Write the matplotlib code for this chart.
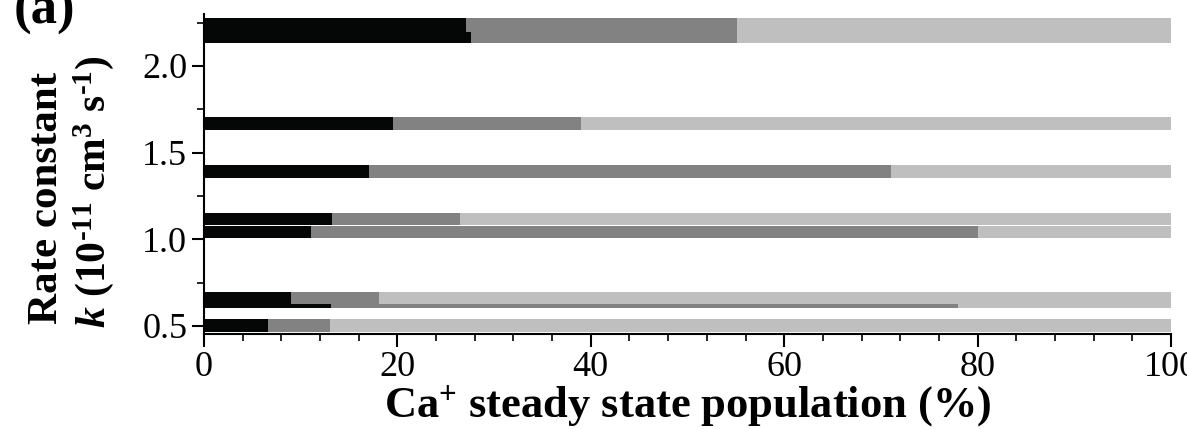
import numpy as np
import matplotlib
matplotlib.use("Agg")
import matplotlib.pyplot as plt
from matplotlib.ticker import MultipleLocator

plt.rcParams['font.family'] = ['Liberation Serif', 'DejaVu Serif']
plt.rcParams['mathtext.fontset'] = 'custom'
plt.rcParams['mathtext.rm'] = 'Liberation Serif:bold'
plt.rcParams['mathtext.bf'] = 'Liberation Serif:bold'
plt.rcParams['mathtext.it'] = 'Liberation Serif:italic:bold'

# rate constants (10^-11 cm^3 s^-1) at which each bar sits
rate_k = [2.165, 2.236, 1.668, 1.392, 1.117, 1.041, 0.650, 0.661, 0.503]
# population shares (%) : black / dark grey / light grey segments
pop_black = [27.6, 27.1, 19.5, 17.1, 13.2, 11.1, 13.1, 9.0, 6.6]
pop_grey = [27.5, 28.0, 19.45, 53.9, 13.3, 68.9, 64.9, 9.1, 6.4]
pop_light = [100 - b - g for b, g in zip(pop_black, pop_grey)]

bar_h = [0.062, 0.079, 0.073, 0.075, 0.066, 0.068, 0.092, 0.069, 0.072]

fig = plt.figure(figsize=(11.87, 4.29), dpi=100)
ax = fig.add_axes([204 / 1187, 95 / 429, 967 / 1187, 320 / 429])

c_black, c_grey, c_light = '#040706', '#818281', '#bfbfbf'
for k, b, g, l, h in zip(rate_k, pop_black, pop_grey, pop_light, bar_h):
    ax.barh(k, b, height=h, color=c_black, linewidth=0)
    ax.barh(k, g, left=b, height=h, color=c_grey, linewidth=0)
    ax.barh(k, l, left=b + g, height=h, color=c_light, linewidth=0)

ax.set_xlim(0, 100)
ax.set_ylim(0.4535, 2.30)
ax.spines['top'].set_visible(False)
ax.spines['right'].set_visible(False)
for s in ('left', 'bottom'):
    ax.spines[s].set_linewidth(1.5)

ax.xaxis.set_major_locator(MultipleLocator(20))
ax.xaxis.set_minor_locator(MultipleLocator(4))
ax.yaxis.set_minor_locator(MultipleLocator(0.25))
ax.set_yticks([0.5, 1.0, 1.5, 2.0])
ax.set_yticklabels(['0.5', '1.0', '1.5', '2.0'])
ax.tick_params(which='major', direction='out', length=9, width=1.5, labelsize=26, pad=3)
ax.tick_params(which='minor', direction='out', length=5, width=1.2)

ax.set_xlabel('Ca$^{+}$ steady state population (%)', fontsize=32,
              fontweight='bold', labelpad=0)
fig.text(47 / 1187, 0.538, 'Rate constant', rotation=90, fontsize=31,
         fontweight='bold', ha='center', va='center')
fig.text(94 / 1187, 0.552, '$k$ (10$^{\u2010 11}$ cm$^{3}$ s$^{\u2010 1}$)',
         rotation=90, fontsize=30, fontweight='bold', ha='center', va='center')
fig.text(14 / 1187, 1 - 24 / 429, '(a)', fontsize=38, fontweight='bold',
         ha='left', va='baseline')

fig.savefig('out.png', dpi=100)
